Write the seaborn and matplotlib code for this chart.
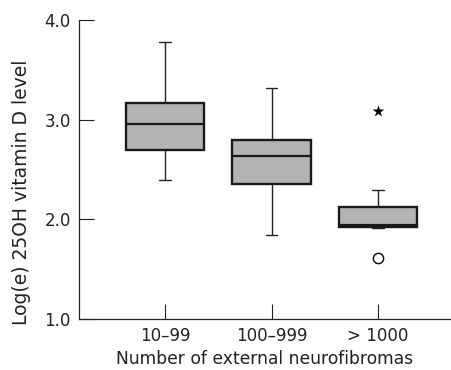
import numpy as np
import pandas as pd
import matplotlib
matplotlib.use("Agg")
import matplotlib.pyplot as plt
import seaborn as sns

# values (log(e) 25OH vitamin D)
groups = ["10–99", "100–999", "> 1000"]
vit_d_10_99 = [2.39, 2.70, 2.96, 3.17, 3.78]
vit_d_100_999 = [1.84, 2.35, 2.64, 2.80, 3.32]
vit_d_over_1000 = [1.61, 1.915, 1.925, 1.935, 1.945, 2.03, 2.12, 2.29, 3.09]
y_ticks = [1.0, 2.0, 3.0, 4.0]
y_tick_labels = ["1.0", "2.0", "3.0", "4.0"]

sns.set_style("ticks")
plt.rcParams["font.family"] = ["DejaVu Sans"]

rows = []
for i, (grp, vals) in enumerate(zip(groups, [vit_d_10_99, vit_d_100_999, vit_d_over_1000])):
    for v in vals:
        rows.append({"group": grp, "pos": i, "value": v})
df = pd.DataFrame(rows)

# classify outliers SPSS style: circle = mild (>1.5 IQR), star = extreme (>3 IQR)
out_rows = []
for i, grp in enumerate(groups):
    vals = df.loc[df["group"] == grp, "value"].to_numpy()
    q1, q3 = np.percentile(vals, [25, 75])
    iqr = q3 - q1
    for v in vals:
        dist = max(q1 - v, v - q3)
        if dist > 3 * iqr:
            out_rows.append({"pos": i, "value": v, "kind": "extreme"})
        elif dist > 1.5 * iqr:
            out_rows.append({"pos": i, "value": v, "kind": "mild"})
outliers = pd.DataFrame(out_rows)

fig = plt.figure(figsize=(4.51, 3.70), dpi=100)
ax = fig.add_axes([79 / 451, 51 / 370, 372 / 451, 299 / 370])

sns.boxplot(
    data=df, x="group", y="value", order=groups, ax=ax,
    color="#b3b3b3", saturation=1, width=0.74, whis=1.5,
    showfliers=False, linecolor="black", linewidth=1.0,
    boxprops={"linewidth": 1.7, "edgecolor": "#1a1a1a"},
    medianprops={"linewidth": 1.6, "color": "#1a1a1a"},
    whiskerprops={"linewidth": 1.0, "color": "#222222"},
    capprops={"linewidth": 1.0, "color": "#222222"},
    capwidths=0.11,
)

mild = outliers[outliers["kind"] == "mild"]
extreme = outliers[outliers["kind"] == "extreme"]
sns.scatterplot(data=mild, x="pos", y="value", ax=ax, marker="o", s=55,
                facecolor="white", edgecolor="black", linewidth=1.0, zorder=5)
sns.scatterplot(data=extreme, x="pos", y="value", ax=ax, marker="*", s=60,
                color="black", edgecolor="black", linewidth=0.3, zorder=5)

ax.set_xlim(-0.808, 2.685)
ax.set_ylim(1.0, 4.0)
ax.set_xticks(range(len(groups)))
ax.set_xticklabels(groups)
ax.set_yticks(y_ticks)
ax.set_yticklabels(y_tick_labels)
ax.tick_params(axis="both", direction="in", length=10.5, width=0.8,
               labelsize=12, colors="#222222")
ax.tick_params(axis="x", pad=6)
ax.tick_params(axis="y", pad=6)
sns.despine(ax=ax)
for side in ["left", "bottom"]:
    ax.spines[side].set_linewidth(0.9)
    ax.spines[side].set_color("#222222")

ax.set_xlabel("Number of external neurofibromas", fontsize=12.3, color="#222222", labelpad=3.5)
ax.set_ylabel("Log(e) 25OH vitamin D level", fontsize=13.5, color="#222222")
ax.yaxis.set_label_coords(-0.129, 0.425)

fig.savefig("out.png", dpi=100)
